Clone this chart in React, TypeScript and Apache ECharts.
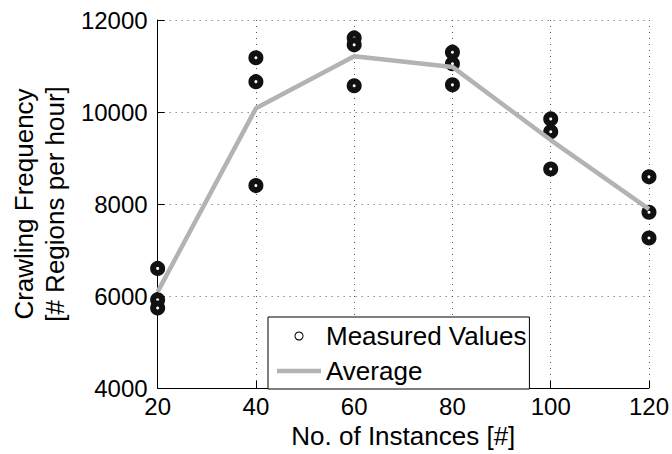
import React, { useEffect, useRef } from "react";
import * as echarts from "echarts";

const instances = [20, 40, 60, 80, 100, 120];
const measuredRun1 = [6600, 11180, 11610, 11300, 9850, 8590];
const measuredRun2 = [5920, 10660, 11460, 11050, 9570, 7820];
const measuredRun3 = [5740, 8400, 10570, 10590, 8760, 7260];
const averageValues = [6090, 10080, 11210, 10980, 9390, 7890];
const yTicks = [4000, 6000, 8000, 10000, 12000];

const FONT = "'Liberation Sans', Arial, Helvetica, sans-serif";

export default function App() {
  const ref = useRef<HTMLDivElement>(null);
  useEffect(() => {
    document.body.style.margin = "0";
    if (!ref.current) return;
    const chart = echarts.init(ref.current, null, { renderer: "svg" });
    const measured: number[][] = [];
    [measuredRun1, measuredRun2, measuredRun3].forEach((run) =>
      run.forEach((v, i) => measured.push([instances[i], v]))
    );
    const avg = averageValues.map((v, i) => [instances[i], v]);
    chart.setOption({
      animation: false,
      backgroundColor: "#fff",
      grid: { left: 155, right: 22, top: 20, bottom: 61, show: false },
      xAxis: {
        type: "value",
        min: 20,
        max: 120,
        interval: 20,
        name: "No. of Instances [#]",
        nameLocation: "middle",
        nameGap: 35,
        nameTextStyle: { fontFamily: FONT, fontSize: 26, color: "#000" },
        axisLine: { show: true, onZero: false, lineStyle: { color: "#000", width: 1 } },
        axisTick: { show: true, inside: true, length: 7, lineStyle: { color: "#000" } },
        axisLabel: { fontFamily: FONT, fontSize: 24, color: "#000", margin: 6 },
        splitLine: { show: true, lineStyle: { color: "#555", type: [1, 5], width: 1 } },
      },
      yAxis: {
        type: "value",
        min: yTicks[0],
        max: yTicks[yTicks.length - 1],
        interval: 2000,
        name: "Crawling Frequency\n[# Regions per hour]",
        nameLocation: "middle",
        nameRotate: 90,
        nameGap: 83,
        nameTextStyle: { fontFamily: FONT, fontSize: 26, color: "#000", lineHeight: 31 },
        axisLine: { show: true, onZero: false, lineStyle: { color: "#000", width: 1 } },
        axisTick: { show: true, inside: true, length: 7, lineStyle: { color: "#000" } },
        axisLabel: {
          fontFamily: FONT,
          fontSize: 24,
          color: "#000",
          margin: 10,
          formatter: (v: number) => String(v),
        },
        splitLine: { show: true, lineStyle: { color: "#555", type: [1, 5], width: 1 } },
      },
      legend: {
        orient: "vertical",
        left: 268,
        top: 317,
        padding: [6, 3, 5, 9],
        itemGap: 9,
        itemWidth: 44,
        itemHeight: 9,
        borderColor: "#000",
        borderWidth: 1,
        borderRadius: 0,
        backgroundColor: "#fff",
        textStyle: { fontFamily: FONT, fontSize: 26, color: "#000", lineHeight: 24 },
        data: [
          {
            name: "Measured Values",
            icon: "path://M4.5,0.6A3.9,3.9,0,1,1,4.49,0.6ZM4.5,1.4A3.1,3.1,0,1,0,4.51,1.4Z",
            itemStyle: { color: "#000", borderWidth: 0 },
          },
          {
            name: "Average",
            icon: "path://M0,0L88,0L88,9L0,9Z",
            itemStyle: { color: "#b3b3b3", borderWidth: 0 },
          },
        ],
      },
      series: [
        {
          name: "Measured Values",
          type: "scatter",
          data: measured,
          symbol: "circle",
          symbolSize: 9,
          itemStyle: { color: "#fff", borderColor: "#111", borderWidth: 6, opacity: 1 },
          z: 2,
        },
        {
          name: "Average",
          type: "line",
          data: avg,
          symbol: "none",
          showSymbol: false,
          lineStyle: { color: "#b3b3b3", width: 4.5 },
          itemStyle: { color: "#b3b3b3" },
          z: 3,
        },
      ],
    });
    return () => chart.dispose();
  }, []);
  return <div ref={ref} style={{ width: 672, height: 454 }} />;
}
